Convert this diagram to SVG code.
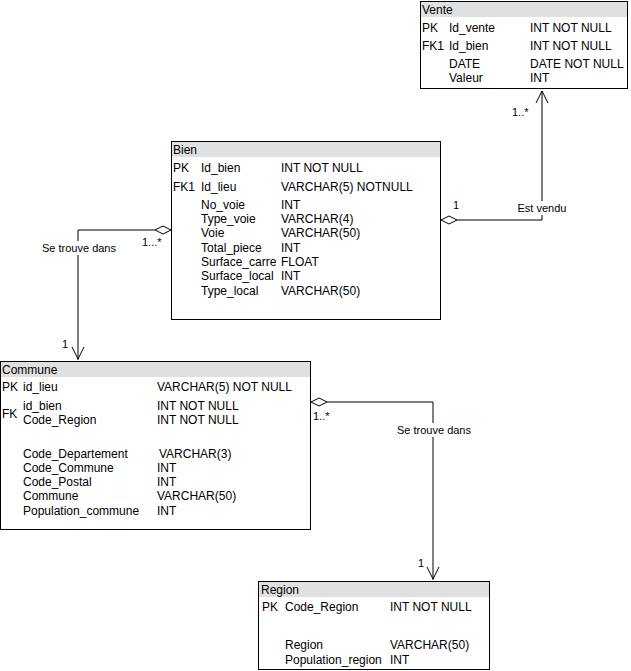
<svg xmlns="http://www.w3.org/2000/svg" width="631" height="671" viewBox="0 0 631 671">
<style>
text{font-family:"Liberation Sans",Arial,sans-serif;font-size:12px;fill:#000}
.box{fill:#fff;stroke:#000;stroke-width:1}
.hdr{fill:#e0e0e0;stroke:none}
.ln{fill:none;stroke:#000;stroke-width:1}
.dia{fill:#fff;stroke:#000;stroke-width:1}
.lbl{text-anchor:middle}
.sm{font-size:11px}
.bg{fill:#fff}
</style>
<rect width="631" height="671" fill="#fff"/>
<g id="connectors">
  <g id="bien-commune">
    <polyline class="ln" points="155,230 78,230 78,360"/>
    <polyline class="ln" points="72,347 78,359 84,347"/>
    <polygon class="dia" points="171,230 163,226 155,230 163,234"/>
    <rect class="bg" x="40" y="241" width="76" height="14"/>
    <text class="lbl sm" x="79" y="252">Se trouve dans</text>
    <text class="sm" x="142" y="246">1...*</text>
    <text class="sm" x="62" y="348">1</text>
  </g>
  <g id="commune-region">
    <polyline class="ln" points="327,402 433,402 433,580"/>
    <polyline class="ln" points="427,567 433,579 439,567"/>
    <polygon class="dia" points="311,402 319,398 327,402 319,406"/>
    <rect class="bg" x="395" y="423" width="76" height="14"/>
    <text class="lbl sm" x="434" y="434">Se trouve dans</text>
    <text class="sm" x="313" y="420">1..*</text>
    <text class="sm" x="418" y="567">1</text>
  </g>
  <g id="bien-vente">
    <polyline class="ln" points="457,220 542,220 542,91"/>
    <polyline class="ln" points="536,103 542,91 548,103"/>
    <polygon class="dia" points="441,220 449,216 457,220 449,224"/>
    <rect class="bg" x="516" y="201" width="52" height="14"/>
    <text class="lbl sm" x="542" y="212">Est vendu</text>
    <text class="sm" x="453" y="209">1</text>
    <text class="sm" x="512" y="116">1..*</text>
  </g>
</g>
<g id="vente">
  <rect class="box" x="420.5" y="1.5" width="207" height="87"/>
  <rect class="hdr" x="421" y="2" width="206" height="15"/>
  <text x="422" y="13.5">Vente</text>
  <text x="422" y="31.5">PK</text><text x="449" y="31.5">Id_vente</text><text x="530" y="31.5">INT NOT NULL</text>
  <text x="422" y="49.5">FK1</text><text x="449" y="49.5">Id_bien</text><text x="530" y="49.5">INT NOT NULL</text>
  <text x="449" y="67.5">DATE</text><text x="530" y="67.5">DATE NOT NULL</text>
  <text x="449" y="82">Valeur</text><text x="530" y="82">INT</text>
</g>
<g id="bien">
  <rect class="box" x="171.5" y="141.5" width="269" height="178"/>
  <rect class="hdr" x="172" y="142" width="268" height="15"/>
  <text x="173" y="153.5">Bien</text>
  <text x="173" y="171.5">PK</text><text x="201" y="171.5">Id_bien</text><text x="281" y="171.5">INT NOT NULL</text>
  <text x="173" y="190.5">FK1</text><text x="201" y="190.5">Id_lieu</text><text x="281" y="190.5">VARCHAR(5) NOTNULL</text>
  <text x="201" y="208.5">No_voie</text><text x="281" y="208.5">INT</text>
  <text x="201" y="222.5">Type_voie</text><text x="281" y="222.5">VARCHAR(4)</text>
  <text x="201" y="236.5">Voie</text><text x="281" y="236.5">VARCHAR(50)</text>
  <text x="201" y="251.5">Total_piece</text><text x="281" y="251.5">INT</text>
  <text x="201" y="265.5">Surface_carre</text><text x="281" y="265.5">FLOAT</text>
  <text x="201" y="279.5">Surface_local</text><text x="281" y="279.5">INT</text>
  <text x="201" y="294.5">Type_local</text><text x="281" y="294.5">VARCHAR(50)</text>
</g>
<g id="commune">
  <rect class="box" x="0.5" y="361.5" width="310" height="168"/>
  <rect class="hdr" x="1" y="362" width="309" height="15"/>
  <text x="2" y="373.5">Commune</text>
  <text x="2" y="390.5">PK</text><text x="23" y="390.5">id_lieu</text><text x="157" y="390.5">VARCHAR(5) NOT NULL</text>
  <text x="2" y="417.5">FK</text>
  <text x="23" y="409.5">id_bien</text><text x="157" y="409.5">INT NOT NULL</text>
  <text x="23" y="423.5">Code_Region</text><text x="157" y="423.5">INT NOT NULL</text>
  <text x="23" y="457.5">Code_Departement</text><text x="159" y="457.5">VARCHAR(3)</text>
  <text x="23" y="471.5">Code_Commune</text><text x="157" y="471.5">INT</text>
  <text x="23" y="485.5">Code_Postal</text><text x="157" y="485.5">INT</text>
  <text x="23" y="499.5">Commune</text><text x="157" y="499.5">VARCHAR(50)</text>
  <text x="23" y="514.5">Population_commune</text><text x="157" y="514.5">INT</text>
</g>
<g id="region">
  <rect class="box" x="258.5" y="581.5" width="231" height="88"/>
  <rect class="hdr" x="259" y="582" width="230" height="15"/>
  <text x="261" y="593.5">Region</text>
  <text x="262" y="610.5">PK</text><text x="285" y="610.5">Code_Region</text><text x="390" y="610.5">INT NOT NULL</text>
  <text x="285" y="648.5">Region</text><text x="390" y="648.5">VARCHAR(50)</text>
  <text x="285" y="663.5">Population_region</text><text x="390" y="663.5">INT</text>
</g>
</svg>
